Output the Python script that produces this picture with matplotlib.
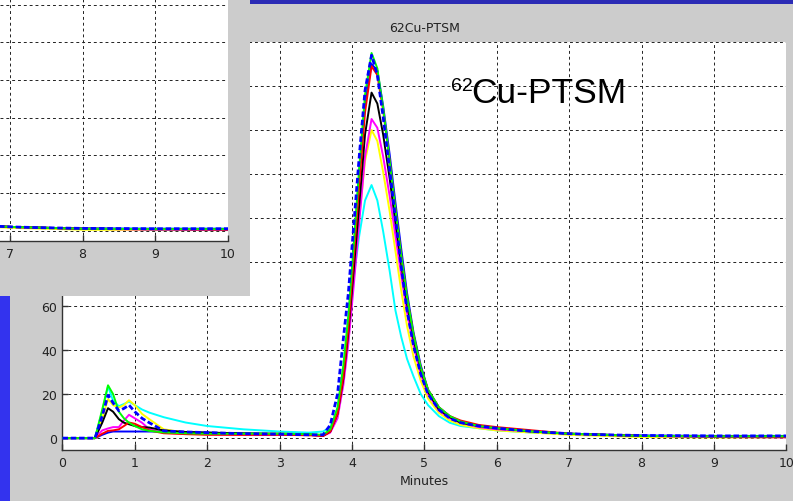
import numpy as np
import matplotlib
matplotlib.use('Agg')
import matplotlib.pyplot as plt
from matplotlib.patches import Rectangle

# retention time (minutes) shared by all traces
minutes = [0, 0.45, 0.55, 0.63, 0.7, 0.78, 0.85, 0.92, 1.0, 1.1, 1.2, 1.4, 1.7, 2.0, 2.5, 3.0, 3.4,
           3.6, 3.7, 3.8, 3.88, 3.95, 4.02, 4.1, 4.18, 4.27, 4.35, 4.43, 4.52, 4.6, 4.68, 4.76,
           4.85, 4.95, 5.05, 5.2, 5.35, 5.5, 5.75, 6.0, 6.5, 7.0, 7.5, 8.0, 9.0, 10.0]

blue_solid = [0, 0, 1.5, 2.5, 3, 3, 3, 3, 3, 3, 3, 3, 2.7, 2.5, 2, 1.8, 1.5,
              1.2, 3.5, 12, 30, 52, 84, 120, 152, 170, 167, 151, 129, 107, 86, 66,
              48, 33, 22, 14, 10, 7.5, 5.5, 4.5, 3, 2, 1.5, 1.2, 1, 1]
cyan = [0, 0, 12, 23.5, 17, 14.5, 15.5, 16.6, 15, 13, 11.6, 9.5, 7.1, 5.5, 4, 3, 2.5,
        3, 5, 13, 28, 52, 72, 92, 108, 115, 108, 94, 76, 58, 46, 36,
        28, 20, 15, 10, 7, 5.5, 4.5, 3.5, 2.5, 2, 1.5, 1, 1, 1]
yellow = [0, 0, 9, 17.7, 15, 13.9, 15, 17.2, 15, 11, 8.6, 4, 2.5, 2, 1.5, 1.5, 1.5,
          1.5, 4, 12, 28, 48, 72, 100, 126, 140, 135, 121, 103, 85, 67, 51,
          37, 26, 18, 11.5, 8, 6, 4.5, 3.5, 2.5, 1.5, 1, 0.5, 0.3, 0.3]
magenta = [0, 0, 3.5, 4.4, 5, 5, 8, 10.6, 9, 7, 4, 2.5, 2, 1.8, 1.5, 1.5, 1.5,
           1, 2.5, 9, 24, 43, 68, 98, 128, 145, 141, 128, 110, 92, 74, 57,
           42, 29, 20, 12.5, 9, 7, 5, 4, 3, 2, 1.5, 1, 0.5, 0.3]
black = [0, 0, 7, 13.6, 12, 8.6, 7, 6.3, 5.5, 5, 4.8, 3.5, 2.8, 2.5, 2.2, 2, 1.8,
         1, 3, 11, 27, 48, 75, 106, 138, 157, 152, 138, 118, 98, 79, 61,
         45, 31, 21, 13, 9.5, 7, 5.5, 4.5, 3, 2, 1.5, 1, 0.8, 0.8]
red = [0, 0, 2, 3.3, 3.5, 4, 5.5, 7.1, 6.5, 5, 3.5, 2.2, 1.8, 1.5, 1.5, 1.5, 1.3,
       1, 3, 11, 28, 50, 80, 115, 148, 169, 165, 149, 126, 104, 83, 64,
       47, 32, 22, 14, 10, 8, 6, 5, 3.5, 2, 1.5, 1, 0.8, 0.5]
green = [0, 0, 13, 24, 20, 12, 9, 7, 5.5, 4, 3.3, 2.6, 2.2, 2, 2, 2, 1.8,
         1.5, 4, 14, 33, 56, 86, 123, 156, 175, 168, 150, 126, 104, 83, 64,
         47, 32, 22, 14, 10, 7.5, 5.5, 4.5, 3, 2, 1.5, 1, 0.8, 0.8]
blue_dashed = [0, 0, 10, 19.5, 16, 12.4, 13.5, 15, 12, 9, 7, 3.3, 2.8, 2.5, 2, 1.8, 1.5,
               1.5, 6, 20, 45, 66, 95, 128, 158, 174, 165, 146, 122, 100, 78, 58,
               42, 29, 20, 13, 9, 7, 5.5, 4.5, 3, 2, 1.5, 1.2, 1, 1]

traces = [(blue_solid, '#0000ff', '-'), (cyan, '#00ffff', '-'), (yellow, '#ffff00', '-'),
          (magenta, '#ff00ff', '-'), (black, '#000000', '-'), (red, '#ff0000', '-'),
          (green, '#00ff00', '-'), (blue_dashed, '#0000ff', '--')]

W, H = 793, 502
gray = '#cccccc'
fig = plt.figure(figsize=(W / 100, H / 100), dpi=100, facecolor=gray)


def px(x0, y0, x1, y1):
    # pixel box (top-left origin) -> figure fraction rect
    return [x0 / W, 1 - y1 / H, (x1 - x0) / W, (y1 - y0) / H]


def style_axes(ax):
    ax.set_facecolor('white')
    for s in ['top', 'right']:
        ax.spines[s].set_visible(False)
    for s in ['left', 'bottom']:
        ax.spines[s].set_color('#333333')
        ax.spines[s].set_linewidth(1.0)
    ax.tick_params(direction='in', length=4, width=1, color='#333333',
                   labelsize=9, labelcolor='#222222', pad=4)
    ax.grid(True, color='#222222', linestyle=(0, (3, 3)), linewidth=0.7)
    ax.set_axisbelow(True)


def draw_traces(ax):
    for vals, c, ls in traces:
        if ls == '--':
            ax.plot(minutes, vals, color=c, lw=2.0, dashes=(2, 1), zorder=3)
        else:
            ax.plot(minutes, vals, color=c, lw=1.4, zorder=3)


# main chromatogram
ax = fig.add_axes(px(62.4, 43, 786.4, 451))
style_axes(ax)
draw_traces(ax)
ax.set_xlim(0, 10)
ax.set_ylim(-5.4, 180)
ax.set_xticks(np.arange(0, 11, 1))
ax.set_yticks(np.arange(0, 181, 20))
ax.set_xlabel('Minutes', fontsize=9, color='#222222', labelpad=4)
ax.set_title('62Cu-PTSM', fontsize=9, color='#222222', pad=8)

# gray screenshot panel covering the top-left corner
fig.patches.append(Rectangle((0, 1 - 297 / H), 250 / W, 297 / H, transform=fig.transFigure,
                             facecolor=gray, edgecolor='none', zorder=1))
fig.patches.append(Rectangle((250 / W, 1 - 5 / H), 543 / W, 5 / H, transform=fig.transFigure,
                             facecolor='#2b2bb5', edgecolor='none', zorder=1))
fig.patches.append(Rectangle((0, 0), 10 / W, 205 / H, transform=fig.transFigure,
                             facecolor='#3333ee', edgecolor='none', zorder=1))

# cropped inset of the tail
ins = fig.add_axes(px(0, 0, 228, 242), zorder=2)
style_axes(ins)
draw_traces(ins)
ins.set_xlim(10 - 228 / 72.7, 10)
ins.set_ylim(-5.5, 123)
ins.set_xticks([7, 8, 9, 10])
ins.set_yticks(np.arange(0, 121, 20))
ins.tick_params(axis='y', left=False, labelleft=False)
ins.spines['left'].set_visible(False)

# big label
fig.text(451 / W, 1 - 91 / H, '62', fontsize=14, family='Liberation Sans', va='baseline')
fig.text(471 / W, 1 - 103 / H, 'Cu-PTSM', fontsize=25.5, family='Liberation Sans', va='baseline')

plt.savefig('out.png', dpi=100, facecolor=gray)
